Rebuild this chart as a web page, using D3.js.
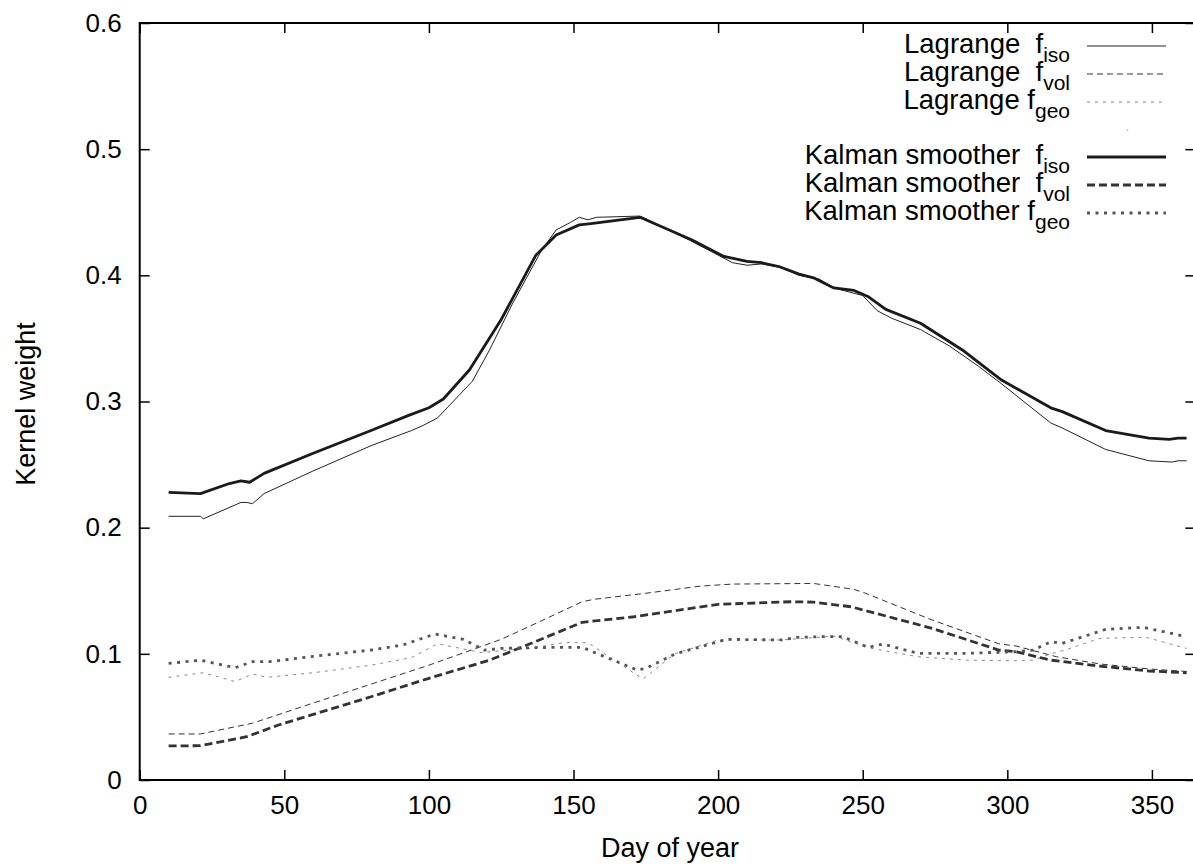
<!DOCTYPE html>
<html>
<head>
<meta charset="utf-8">
<script src="https://cdn.jsdelivr.net/npm/d3@7"></script>
<style>
  body { margin: 0; background: #fff; }
  text { font-family: "Liberation Sans", Arial, Helvetica, sans-serif; fill: #000; }
</style>
</head>
<body>
<div id="chart"></div>
<script>
// values
var xTicks = [0, 50, 100, 150, 200, 250, 300, 350]
var yTicks = [0, 0.1, 0.2, 0.3, 0.4, 0.5, 0.6]

var lagIsoDay = [10, 21, 22, 35, 37, 39, 43, 60, 80, 94, 98, 103, 115, 121, 129, 139, 144, 149, 152, 155, 158, 173, 190, 200, 205, 210, 215, 222, 228, 235, 240, 250, 255, 260, 270, 280, 290, 298, 315, 319, 334, 349, 357, 359, 362]
var lagIsoVal = [0.209, 0.209, 0.207, 0.220, 0.220, 0.219, 0.227, 0.245, 0.265, 0.277, 0.281, 0.287, 0.316, 0.341, 0.378, 0.420, 0.436, 0.442, 0.446, 0.444, 0.446, 0.447, 0.428, 0.416, 0.410, 0.408, 0.409, 0.406, 0.400, 0.397, 0.390, 0.384, 0.372, 0.366, 0.357, 0.344, 0.328, 0.314, 0.283, 0.279, 0.262, 0.253, 0.252, 0.253, 0.253]

var lagVolDay = [10, 21, 39, 60, 80, 100, 125, 135, 153, 157, 175, 194, 205, 233, 247, 251, 274, 297, 303, 317, 332, 349, 362]
var lagVolVal = [0.0365, 0.0365, 0.045, 0.061, 0.076, 0.091, 0.1115, 0.122, 0.1413, 0.1432, 0.148, 0.1537, 0.1553, 0.1558, 0.1511, 0.148, 0.1268, 0.108, 0.1062, 0.0977, 0.092, 0.088, 0.086]

var lagGeoDay = [10, 22, 33, 39, 44, 60, 80, 94, 103, 118, 135, 147, 155, 174, 185, 200, 222, 240, 253, 269, 286, 303, 309, 315, 320, 332, 348, 362]
var lagGeoVal = [0.0814, 0.085, 0.078, 0.084, 0.0814, 0.085, 0.091, 0.097, 0.108, 0.101, 0.1044, 0.109, 0.1088, 0.080, 0.100, 0.111, 0.111, 0.114, 0.1043, 0.0977, 0.095, 0.0945, 0.095, 0.100, 0.103, 0.1123, 0.1131, 0.1043]

var kalIsoDay = [10, 21, 31, 35, 38, 43, 60, 80, 93, 100, 105, 114, 125, 137, 144, 152, 156, 173, 191, 202, 210, 215, 221, 228, 233, 240, 247, 252, 258, 270, 285, 298, 315, 319, 334, 349, 356, 359, 362]
var kalIsoVal = [0.228, 0.227, 0.235, 0.237, 0.236, 0.243, 0.259, 0.277, 0.289, 0.295, 0.302, 0.325, 0.365, 0.416, 0.432, 0.440, 0.441, 0.446, 0.428, 0.415, 0.411, 0.410, 0.407, 0.401, 0.398, 0.390, 0.388, 0.383, 0.373, 0.362, 0.340, 0.317, 0.295, 0.292, 0.277, 0.271, 0.270, 0.271, 0.271]

var kalVolDay = [10, 21, 37, 48, 60, 80, 100, 121, 135, 153, 171, 200, 225, 233, 246, 274, 297, 303, 315, 332, 349, 362]
var kalVolVal = [0.027, 0.0272, 0.0343, 0.0436, 0.052, 0.066, 0.0806, 0.095, 0.108, 0.125, 0.1294, 0.1392, 0.1413, 0.141, 0.1373, 0.1202, 0.103, 0.1017, 0.095, 0.0903, 0.0864, 0.085]

var kalGeoDay = [10, 21, 33, 39, 45, 60, 80, 91, 102, 112, 119, 125, 142, 153, 172, 175, 185, 203, 222, 227, 235, 243, 252, 257, 269, 286, 303, 309, 315, 319, 334, 347, 362]
var kalGeoVal = [0.0924, 0.095, 0.089, 0.0938, 0.0938, 0.098, 0.103, 0.107, 0.1157, 0.1115, 0.103, 0.1043, 0.1051, 0.1051, 0.0872, 0.0885, 0.0998, 0.1115, 0.111, 0.113, 0.1136, 0.1136, 0.1051, 0.1078, 0.1004, 0.1004, 0.1017, 0.103, 0.1096, 0.1083, 0.1194, 0.121, 0.1136]

var seriesNames = ["Lagrange  f|iso", "Lagrange  f|vol", "Lagrange f|geo", "", "Kalman smoother  f|iso", "Kalman smoother  f|vol", "Kalman smoother f|geo"]

var svgWidth = 1193
var svgHeight = 866
var margin = { top: 23, left: 139.7 }
var width = 1055.6   // 0..365 days, right edge falls just off the picture
var height = 757

var svg = d3.select("#chart").append("svg")
  .attr("width", svgWidth)
  .attr("height", svgHeight)

var g = svg.append("g")
  .attr("transform", `translate(${margin.left}, ${margin.top})`)

var xScale = d3.scaleLinear().domain([0, 365]).range([0, width])
var yScale = d3.scaleLinear().domain([0, 0.6]).range([height, 0])

// axes, gnuplot style: ticks point inward on all sides
function styleAxis(sel) {
  sel.select(".domain").remove()
  sel.selectAll(".tick line").attr("stroke", "#000").attr("stroke-width", 1.5)
  sel.selectAll(".tick text").attr("font-size", 26).attr("fill", "#000")
}

g.append("g")
  .attr("transform", `translate(0, ${height})`)
  .call(d3.axisBottom(xScale).tickValues(xTicks).tickSize(-10).tickPadding(16).tickFormat(d3.format("d")))
  .call(styleAxis)

g.append("g")
  .call(d3.axisTop(xScale).tickValues(xTicks).tickSize(-10).tickFormat(""))
  .call(styleAxis)

g.append("g")
  .call(d3.axisLeft(yScale).tickValues(yTicks).tickSize(-10).tickPadding(18).tickFormat(d => d === 0 ? "0" : d3.format(".1f")(d)))
  .call(styleAxis)

g.append("g")
  .attr("transform", `translate(${width}, 0)`)
  .call(d3.axisRight(yScale).tickValues(yTicks).tickSize(-10).tickFormat(""))
  .call(styleAxis)

// border
g.append("rect")
  .attr("x", 0).attr("y", 0)
  .attr("width", width).attr("height", height)
  .attr("fill", "none")
  .attr("stroke", "#000")
  .attr("stroke-width", 2)

// series
var styles = [
  { day: lagIsoDay, val: lagIsoVal, color: "#222", w: 1, dash: null },
  { day: lagVolDay, val: lagVolVal, color: "#333", w: 1, dash: "6,4" },
  { day: lagGeoDay, val: lagGeoVal, color: "#888", w: 1, dash: "3,5" },
  null,
  { day: kalIsoDay, val: kalIsoVal, color: "#1a1a1a", w: 2.8, dash: null },
  { day: kalVolDay, val: kalVolVal, color: "#333", w: 2.8, dash: "8,4" },
  { day: kalGeoDay, val: kalGeoVal, color: "#555", w: 2.8, dash: "3,5.5" }
]

var line = d3.line()
  .x(d => xScale(d[0]))
  .y(d => yScale(d[1]))

styles.forEach(function(s) {
  if (!s) return
  var pts = s.day.map((d, i) => [d, s.val[i]])
  g.append("path")
    .datum(pts)
    .attr("fill", "none")
    .attr("stroke", s.color)
    .attr("stroke-width", s.w)
    .attr("stroke-dasharray", s.dash)
    .attr("stroke-linejoin", "round")
    .attr("d", line)
})

// legend
var legend = svg.append("g")
var rowY = [46, 74, 102, 130, 157, 185, 213]

seriesNames.forEach(function(name, i) {
  var y = rowY[i]
  var s = styles[i]
  if (!s) {
    legend.append("rect")
      .attr("x", 1127).attr("y", y - 0.5)
      .attr("width", 1.2).attr("height", 1.2)
      .attr("fill", "#999")
    return
  }
  var parts = name.split("|")
  var t = legend.append("text")
    .attr("x", 1070)
    .attr("y", y + 7)
    .attr("text-anchor", "end")
    .attr("font-size", 27.5)
    .style("white-space", "pre")
  t.append("tspan").text(parts[0])
  t.append("tspan").attr("dy", 9).attr("font-size", 21).text(parts[1])

  legend.append("line")
    .attr("x1", 1087).attr("x2", 1166)
    .attr("y1", y).attr("y2", y)
    .attr("stroke", s.color)
    .attr("stroke-width", s.w)
    .attr("stroke-dasharray", s.dash)
})

// axis titles
svg.append("text")
  .attr("x", 670)
  .attr("y", 857)
  .attr("text-anchor", "middle")
  .attr("font-size", 27)
  .text("Day of year")

svg.append("text")
  .attr("transform", "translate(35, 404) rotate(-90)")
  .attr("text-anchor", "middle")
  .attr("font-size", 27)
  .text("Kernel weight")
</script>
</body>
</html>
